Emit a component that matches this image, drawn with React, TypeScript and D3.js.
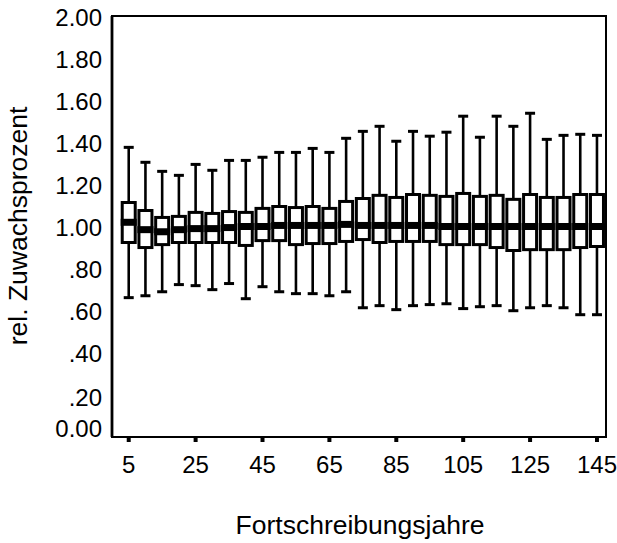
import * as d3 from "d3";

/* ------------------------------------------------------------------ */
/*  Data                                      */
/* ------------------------------------------------------------------ */

const years = [
  5, 10, 15, 20, 25, 30, 35, 40, 45, 50, 55, 60, 65, 70, 75, 80, 85, 90, 95,
  100, 105, 110, 115, 120, 125, 130, 135, 140, 145,
];
const whiskerHigh = [
  1.376, 1.305, 1.262, 1.243, 1.295, 1.267, 1.314, 1.314, 1.329, 1.352, 1.352,
  1.371, 1.352, 1.419, 1.452, 1.476, 1.405, 1.452, 1.429, 1.448, 1.524, 1.424,
  1.524, 1.476, 1.538, 1.414, 1.433, 1.438, 1.433,
];
const q3 = [
  1.114, 1.076, 1.043, 1.048, 1.067, 1.062, 1.071, 1.067, 1.086, 1.095, 1.09,
  1.095, 1.086, 1.119, 1.133, 1.148, 1.138, 1.152, 1.148, 1.143, 1.157, 1.143,
  1.148, 1.129, 1.152, 1.138, 1.138, 1.152, 1.152,
];
const median = [
  1.02, 0.985, 0.975, 0.985, 0.99, 0.99, 0.995, 1.0, 1.0, 1.005, 1.005, 1.005,
  1.005, 1.01, 1.005, 1.005, 1.005, 1.005, 1.005, 1.0, 1.0, 1.0, 1.0, 1.0, 1.0,
  1.0, 1.0, 1.0, 1.0,
];
const q1 = [
  0.924, 0.9, 0.914, 0.924, 0.924, 0.924, 0.924, 0.91, 0.933, 0.933, 0.914,
  0.919, 0.919, 0.929, 0.938, 0.924, 0.929, 0.929, 0.929, 0.914, 0.914, 0.914,
  0.9, 0.886, 0.89, 0.89, 0.89, 0.9, 0.905,
];
const whiskerLow = [
  0.662, 0.671, 0.69, 0.724, 0.719, 0.7, 0.729, 0.657, 0.714, 0.69, 0.681,
  0.681, 0.671, 0.69, 0.614, 0.624, 0.605, 0.624, 0.629, 0.633, 0.61, 0.619,
  0.624, 0.6, 0.614, 0.624, 0.614, 0.581, 0.581,
];

const yTicks = [0, 0.2, 0.4, 0.6, 0.8, 1.0, 1.2, 1.4, 1.6, 1.8, 2.0];
const xTicks = [5, 25, 45, 65, 85, 105, 125, 145];

/* ------------------------------------------------------------------ */
/*  Layout                                                             */
/* ------------------------------------------------------------------ */

const W = 617;
const H = 543;
const FRAME = { left: 112, right: 606, top: 16, bottom: 437 };
const FONT = "'Liberation Sans', Arial, Helvetica, sans-serif";
const INK = "#000";
const TICK_SIZE = 24;
const TITLE_SIZE = 26.5;

// SPSS style: ".80" for values below one, but "0.00" for zero
const fmtY = (v: number) =>
  v === 0 ? "0.00" : v >= 1 ? v.toFixed(2) : v.toFixed(2).replace(/^0/, "");

export default function App() {
  const x = d3.scaleLinear().domain([0, 147.7]).range([FRAME.left, FRAME.right]);
  const y = d3.scaleLinear().domain([0, 2]).range([FRAME.bottom, FRAME.top]);

  const boxW = 16;
  const capW = 10;

  const boxes = years.map((yr, i) => ({
    yr,
    hi: whiskerHigh[i],
    q3: q3[i],
    med: median[i],
    q1: q1[i],
    lo: whiskerLow[i],
  }));

  return (
    <>
      <style>{`body{margin:0;background:#fff}`}</style>
      <svg width={W} height={H} style={{ display: "block", background: "#fff" }}>
        {/* Boxes */}
        {boxes.map((b) => {
          const cx = x(b.yr);
          return (
            <g key={b.yr}>
              {/* whiskers */}
              <line x1={cx} x2={cx} y1={y(b.hi)} y2={y(b.q3)} stroke={INK} strokeWidth={2.6} />
              <line x1={cx} x2={cx} y1={y(b.q1)} y2={y(b.lo)} stroke={INK} strokeWidth={2.6} />
              <line x1={cx - capW / 2} x2={cx + capW / 2} y1={y(b.hi)} y2={y(b.hi)} stroke={INK} strokeWidth={3} />
              <line x1={cx - capW / 2} x2={cx + capW / 2} y1={y(b.lo)} y2={y(b.lo)} stroke={INK} strokeWidth={3} />
              {/* box */}
              <rect
                x={cx - boxW / 2 + 1.5}
                y={y(b.q3)}
                width={boxW - 3}
                height={y(b.q1) - y(b.q3)}
                fill="#fff"
                stroke={INK}
                strokeWidth={3}
              />
              {/* median */}
              <line
                x1={cx - boxW / 2}
                x2={cx + boxW / 2}
                y1={y(b.med)}
                y2={y(b.med)}
                stroke={INK}
                strokeWidth={7}
              />
            </g>
          );
        })}

        {/* Frame */}
        <rect
          x={FRAME.left}
          y={FRAME.top}
          width={FRAME.right - FRAME.left}
          height={FRAME.bottom - FRAME.top}
          fill="none"
          stroke={INK}
          strokeWidth={2}
        />
        <line x1={FRAME.left} x2={FRAME.left} y1={FRAME.top} y2={FRAME.bottom} stroke={INK} strokeWidth={2.8} />

        {/* Y tick labels */}
        {yTicks.map((t) => (
          <text
            key={t}
            x={102}
            y={y(t) + (t === 0 ? -9 : t === 0.2 ? 2 : 1)}
            dy="0.36em"
            textAnchor="end"
            fontFamily={FONT}
            fontSize={TICK_SIZE}
            fill={INK}
          >
            {fmtY(t)}
          </text>
        ))}

        {/* X ticks */}
        {xTicks.map((t) => (
          <g key={t}>
            <line x1={x(t)} x2={x(t)} y1={FRAME.bottom} y2={FRAME.bottom + 5} stroke={INK} strokeWidth={4} />
            <text
              x={x(t)}
              y={473}
              textAnchor="middle"
              fontFamily={FONT}
              fontSize={TICK_SIZE}
              fill={INK}
            >
              {t}
            </text>
          </g>
        ))}

        {/* Axis titles */}
        <text
          x={360}
          y={534}
          textAnchor="middle"
          fontFamily={FONT}
          fontSize={TITLE_SIZE}
          fill={INK}
        >
          Fortschreibungsjahre
        </text>
        <text
          transform={`translate(27,${226}) rotate(-90)`}
          textAnchor="middle"
          fontFamily={FONT}
          fontSize={TITLE_SIZE}
          fill={INK}
        >
          rel. Zuwachsprozent
        </text>
      </svg>
    </>
  );
}
